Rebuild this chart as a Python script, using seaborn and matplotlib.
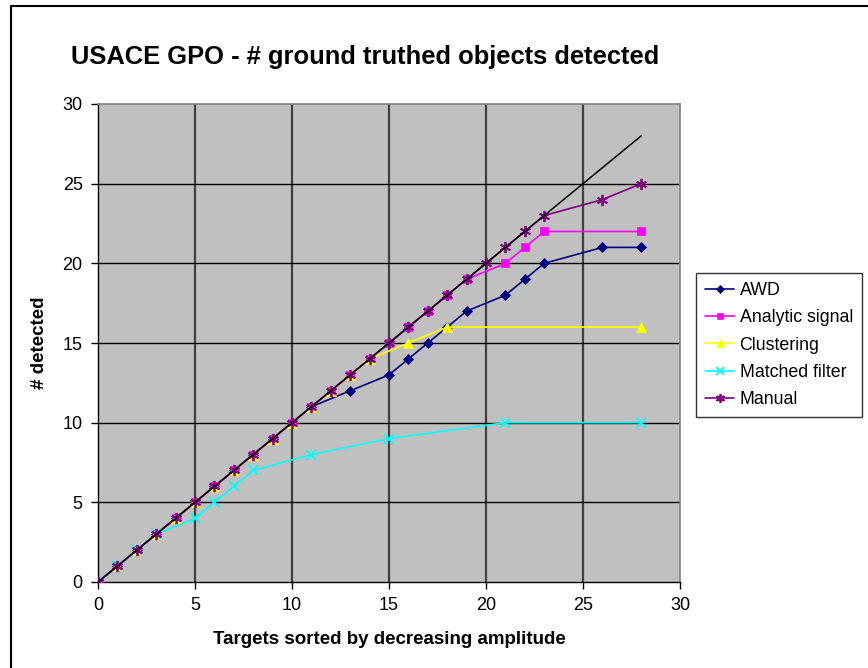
import matplotlib
matplotlib.use("Agg")
import matplotlib.pyplot as plt
import seaborn as sns
import pandas as pd

# ---- data ----
awd_x = [0, 1, 2, 3, 4, 5, 6, 7, 8, 9, 10, 11, 13, 15, 16, 17, 18, 19, 21, 22, 23, 26, 28]
awd_y = [0, 1, 2, 3, 4, 5, 6, 7, 8, 9, 10, 11, 12, 13, 14, 15, 16, 17, 18, 19, 20, 21, 21]

analytic_x = [0, 1, 2, 3, 4, 5, 6, 7, 8, 9, 10, 11, 12, 13, 14, 15, 16, 17, 18, 19, 21, 22, 23, 28]
analytic_y = [0, 1, 2, 3, 4, 5, 6, 7, 8, 9, 10, 11, 12, 13, 14, 15, 16, 17, 18, 19, 20, 21, 22, 22]

cluster_x = [0, 1, 2, 3, 4, 5, 6, 7, 8, 9, 10, 11, 12, 13, 14, 16, 18, 28]
cluster_y = [0, 1, 2, 3, 4, 5, 6, 7, 8, 9, 10, 11, 12, 13, 14, 15, 16, 16]

matched_x = [0, 1, 2, 3, 5, 6, 7, 8, 11, 15, 21, 28]
matched_y = [0, 1, 2, 3, 4, 5, 6, 7, 8, 9, 10, 10]

manual_x = [0, 1, 2, 3, 4, 5, 6, 7, 8, 9, 10, 11, 12, 13, 14, 15, 16, 17, 18, 19, 20, 21, 22, 23, 26, 28]
manual_y = [0, 1, 2, 3, 4, 5, 6, 7, 8, 9, 10, 11, 12, 13, 14, 15, 16, 17, 18, 19, 20, 21, 22, 23, 24, 25]

ideal_x = [0, 28]
ideal_y = [0, 28]

series_names = ["AWD", "Analytic signal", "Clustering", "Matched filter", "Manual"]
series_x = [awd_x, analytic_x, cluster_x, matched_x, manual_x]
series_y = [awd_y, analytic_y, cluster_y, matched_y, manual_y]
series_colors = ["#000080", "#FF00FF", "#FFFF00", "#00FFFF", "#800080"]
series_markers = ["D", "s", "^", "x", (6, 2, 0)]
series_msize = [5, 6, 7, 7, 8]

title = "USACE GPO - # ground truthed objects detected"
xlabel = "Targets sorted by decreasing amplitude"
ylabel = "# detected"
ticks = [0, 5, 10, 15, 20, 25, 30]

# ---- plot ----
sns.set_theme(style="white")
plt.rcParams["font.family"] = ["Liberation Sans", "DejaVu Sans"]
plt.rcParams["text.color"] = "black"
plt.rcParams["xtick.color"] = "black"
plt.rcParams["ytick.color"] = "black"
plt.rcParams["axes.labelcolor"] = "black"

fig = plt.figure(figsize=(8.68, 6.68), dpi=100)
ax = fig.add_axes([98 / 868, 1 - 582 / 668, 582 / 868, 478 / 668])
ax.set_facecolor("#C0C0C0")

for name, xs, ys, c, m, ms in zip(series_names, series_x, series_y,
                                  series_colors, series_markers, series_msize):
    df = pd.DataFrame({"x": xs, "y": ys})
    filled = m not in ("x", (6, 2, 0))
    sns.lineplot(data=df, x="x", y="y", ax=ax, color=c, linewidth=1.2,
                 marker=m, markersize=ms, markerfacecolor=c, markeredgecolor=c,
                 markeredgewidth=1.3 if not filled else 0.5,
                 label=name, sort=False, zorder=3)

dfi = pd.DataFrame({"x": ideal_x, "y": ideal_y})
sns.lineplot(data=dfi, x="x", y="y", ax=ax, color="black", linewidth=1.1,
             legend=False, zorder=4)

ax.set_xlim(0, 30)
ax.set_ylim(0, 30)
ax.set_xticks(ticks)
ax.set_yticks(ticks)
ax.set_xticklabels([str(t) for t in ticks], fontsize=13, color="black")
ax.set_yticklabels([str(t) for t in ticks], fontsize=13, color="black")
ax.tick_params(axis="both", direction="out", length=5, width=1, color="black",
               pad=6, bottom=True, left=True)

for t in ticks[1:-1]:
    ax.axvline(t, color="#404040", linewidth=1.6, zorder=1)
for t in ticks[1:-1]:
    ax.axhline(t, color="black", linewidth=1.0, zorder=1)

for s in ["left", "bottom"]:
    ax.spines[s].set_color("black")
    ax.spines[s].set_linewidth(1.0)
for s in ["top", "right"]:
    ax.spines[s].set_color("#808080")
    ax.spines[s].set_linewidth(1.2)

ax.set_xlabel("")
ax.set_ylabel("")
fig.text(389 / 868, 1 - 640 / 668, xlabel, ha="center", va="center",
         fontsize=13.5, fontweight="bold", color="black")
fig.text(40 / 868, 1 - 343 / 668, ylabel, ha="center", va="center",
         rotation=90, fontsize=13.5, fontweight="bold", color="black")
fig.text(365 / 868, 1 - 57 / 668, title, ha="center", va="center",
         fontsize=18.4, fontweight="bold", color="black")

leg = ax.legend(loc="upper left", bbox_to_anchor=(696 / 868, 1 - 273 / 668),
                bbox_transform=fig.transFigure, frameon=True, fancybox=False,
                shadow=False, fontsize=12.8, handlelength=1.65, handletextpad=0.3,
                borderpad=0.5, labelspacing=0.58, borderaxespad=0.0,
                markerscale=0.8)
leg.get_frame().set_edgecolor("black")
leg.get_frame().set_linewidth(1.0)
leg.get_frame().set_facecolor("white")
for t in leg.get_texts():
    t.set_color("black")

# chart-area border
border = plt.Rectangle((11 / 868, -0.01), 1.2, 1 - 6 / 668 + 0.01,
                       transform=fig.transFigure, fill=False,
                       edgecolor="black", linewidth=1.5)
fig.patches.append(border)

fig.savefig("out.png", dpi=100)
